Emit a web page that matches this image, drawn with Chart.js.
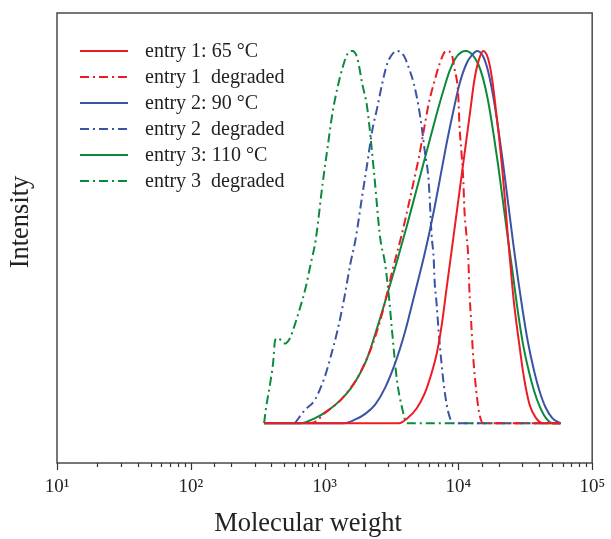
<!DOCTYPE html>
<html>
<head>
<meta charset="utf-8">
<script src="https://cdn.jsdelivr.net/npm/chart.js@4/dist/chart.umd.min.js"></script>
<style>
html,body{margin:0;padding:0;background:#fff;}
#wrap{width:611px;height:539px;position:relative;}
</style>
</head>
<body>
<div id="wrap"><canvas id="c" width="611" height="539"></canvas></div>
<script>
// ---- data (molecular weight, normalized intensity) ----
const seriesLabels = ['entry 1: 65 \u00B0C', 'entry 1  degraded', 'entry 2: 90 \u00B0C', 'entry 2  degraded', 'entry 3: 110 \u00B0C', 'entry 3  degraded'];
const xTitle = 'Molecular weight';
const yTitle = 'Intensity';

const e1M = [353, 3594, 4120, 4887, 5600, 6310, 6871, 7480, 8147, 8875, 9665, 10520, 11460, 12270, 13140, 14060, 15320, 16690, 17860, 19100, 20120, 21180, 22290, 23460, 24700, 25990, 27350, 28800, 30310, 31900, 34150, 37840, 42630, 57940];
const e1I = [0, 0, 0.012, 0.040, 0.080, 0.135, 0.185, 0.260, 0.360, 0.460, 0.560, 0.660, 0.760, 0.840, 0.920, 0.970, 1.0, 0.979, 0.925, 0.840, 0.770, 0.690, 0.600, 0.500, 0.410, 0.325, 0.260, 0.200, 0.142, 0.095, 0.048, 0.015, 0, 0];

const e1dM = [748, 843, 1017, 1248, 1481, 1755, 2012, 2270, 2694, 2934, 3190, 3785, 4265, 4645, 5060, 5510, 5995, 6640, 7230, 7875, 8147, 8875, 9340, 10000, 10170, 10520, 10890, 11070, 11460, 11860, 12060, 12480, 12910, 13590, 14310, 15320, 57940];
const e1dI = [0, 0.003, 0.029, 0.054, 0.083, 0.121, 0.164, 0.209, 0.295, 0.349, 0.405, 0.509, 0.590, 0.651, 0.713, 0.786, 0.858, 0.920, 0.965, 0.997, 1.0, 0.992, 0.954, 0.874, 0.804, 0.732, 0.651, 0.579, 0.509, 0.445, 0.365, 0.268, 0.177, 0.088, 0.027, 0, 0];

const e2M = [353, 1406, 1697, 2013, 2387, 2831, 3357, 3915, 4335, 4887, 5510, 6095, 6640, 7356, 8147, 9185, 10170, 11460, 12700, 13830, 15320, 16690, 18170, 19790, 21540, 23460, 25550, 27830, 30310, 33000, 36560, 40500, 44870, 50550, 57940];
const e2I = [0, 0, 0.010, 0.025, 0.050, 0.095, 0.160, 0.235, 0.295, 0.370, 0.445, 0.515, 0.580, 0.665, 0.750, 0.840, 0.910, 0.965, 0.990, 1.0, 0.985, 0.945, 0.880, 0.795, 0.700, 0.595, 0.490, 0.390, 0.300, 0.220, 0.145, 0.085, 0.042, 0.013, 0];

const e2dM = [600, 711, 843, 1000, 1107, 1248, 1406, 1559, 1698, 1911, 2083, 2270, 2473, 2694, 2934, 3303, 3475, 3915, 4265, 4645, 5060, 5325, 5600, 5995, 6310, 6531, 6640, 6871, 7110, 7480, 7875, 8435, 9185, 57940];
const e2dI = [0, 0.035, 0.062, 0.123, 0.177, 0.249, 0.338, 0.429, 0.491, 0.611, 0.697, 0.786, 0.847, 0.912, 0.965, 0.997, 1.0, 0.987, 0.954, 0.912, 0.847, 0.794, 0.732, 0.651, 0.504, 0.445, 0.383, 0.322, 0.249, 0.161, 0.088, 0.027, 0, 0];

const e3M = [353, 664, 843, 1052, 1315, 1559, 1848, 2083, 2473, 2934, 3475, 4120, 4887, 5794, 6871, 7743, 8570, 9501, 10520, 11460, 12700, 14060, 15320, 16690, 18170, 19790, 21540, 23460, 25550, 27830, 30310, 33580, 36560, 40500, 44870, 50550, 57940];
const e3I = [0, 0, 0.013, 0.033, 0.062, 0.092, 0.135, 0.175, 0.257, 0.345, 0.435, 0.530, 0.630, 0.730, 0.830, 0.895, 0.945, 0.980, 0.997, 1.0, 0.990, 0.965, 0.925, 0.865, 0.785, 0.695, 0.595, 0.495, 0.400, 0.300, 0.215, 0.140, 0.090, 0.045, 0.015, 0, 0];

const e3dM = [353, 366, 392, 412, 427, 449, 506, 551, 580, 653, 723, 788, 857, 966, 1052, 1146, 1248, 1360, 1481, 1612, 1755, 1911, 2083, 2346, 2600, 2831, 3030, 3190, 3475, 3785, 4120, 57940];
const e3dI = [0, 0.043, 0.107, 0.161, 0.223, 0.228, 0.214, 0.228, 0.249, 0.308, 0.365, 0.429, 0.491, 0.643, 0.740, 0.834, 0.901, 0.954, 0.992, 1.0, 0.981, 0.912, 0.847, 0.670, 0.499, 0.429, 0.338, 0.249, 0.115, 0.043, 0, 0];

const xTickValues = [10, 100, 1000, 10000, 100000];
const xTickLabels = ['10\u00B9', '10\u00B2', '10\u00B3', '10\u2074', '10\u2075'];

// ---- styles ----
const RED = '#ec1c24', BLUE = '#3a53a4', GREEN = '#0c8a3c';
const DASHDOT = [9, 4, 2, 4];
const SERIF = "'Liberation Serif', 'Times New Roman', serif";

function pts(mArr, iArr) { return mArr.map((m, i) => ({ x: m, y: iArr[i] })); }

function ds(label, mArr, iArr, color, dashed) {
  return {
    label: label,
    data: pts(mArr, iArr),
    borderColor: color,
    backgroundColor: color,
    borderWidth: 2,
    borderDash: dashed ? DASHDOT : [],
    pointRadius: 0,
    fill: false,
    cubicInterpolationMode: 'monotone'
  };
}

const datasets = [
  ds(seriesLabels[0], e1M, e1I, RED, false),
  ds(seriesLabels[1], e1dM, e1dI, RED, true),
  ds(seriesLabels[2], e2M, e2I, BLUE, false),
  ds(seriesLabels[3], e2dM, e2dI, BLUE, true),
  ds(seriesLabels[4], e3M, e3I, GREEN, false),
  ds(seriesLabels[5], e3dM, e3dI, GREEN, true)
];

const decor = {
  id: 'decor',
  afterDraw(chart) {
    const ctx = chart.ctx;
    const a = chart.chartArea;
    const xs = chart.scales.x;
    ctx.save();
    // frame
    ctx.strokeStyle = '#4a4a4a';
    ctx.lineWidth = 1.5;
    ctx.setLineDash([]);
    ctx.strokeRect(a.left, a.top, a.right - a.left, a.bottom - a.top);
    // bottom ticks (outward)
    ctx.strokeStyle = '#333';
    ctx.lineWidth = 1.2;
    xs.ticks.forEach(t => {
      const v = t.value;
      const lg = Math.log10(v);
      const major = Math.abs(lg - Math.round(lg)) < 1e-9;
      const px = Math.round(xs.getPixelForValue(v)) + 0.5;
      ctx.beginPath();
      ctx.moveTo(px, a.bottom);
      ctx.lineTo(px, a.bottom + (major ? 7 : 4));
      ctx.stroke();
    });
    // axis titles
    ctx.fillStyle = '#222';
    ctx.font = '26.5px ' + SERIF;
    ctx.textAlign = 'center';
    ctx.textBaseline = 'middle';
    ctx.fillText(xTitle, a.left + 251, 524);
    ctx.save();
    ctx.translate(21, a.top + 209);
    ctx.rotate(-Math.PI / 2);
    ctx.fillText(yTitle, 0, 0);
    ctx.restore();
    // legend
    const x0 = a.left + 23, x1 = a.left + 71, tx = a.left + 88;
    let y = a.top + 38;
    ctx.font = '20px ' + SERIF;
    ctx.textBaseline = 'middle';
    ctx.textAlign = 'left';
    chart.data.datasets.forEach(d => {
      ctx.strokeStyle = d.borderColor;
      ctx.lineWidth = 2;
      ctx.setLineDash(d.borderDash || []);
      ctx.beginPath();
      ctx.moveTo(x0, y);
      ctx.lineTo(x1, y);
      ctx.stroke();
      ctx.setLineDash([]);
      ctx.fillStyle = '#222';
      ctx.fillText(d.label, tx, y + 1);
      y += 26;
    });
    ctx.restore();
  }
};

new Chart(document.getElementById('c'), {
  type: 'line',
  data: { datasets: datasets },
  options: {
    responsive: false,
    animation: false,
    layout: { padding: { top: 13, right: 14, left: 0, bottom: 0 } },
    plugins: { legend: { display: false }, tooltip: { enabled: false } },
    scales: {
      x: {
        type: 'logarithmic',
        min: 10,
        max: 100000,
        afterFit(s) { s.height = 76; },
        grid: { display: true, drawOnChartArea: false, drawTicks: true, tickLength: 7, color: 'rgba(0,0,0,0)' },
        border: { display: false },
        ticks: {
          autoSkip: false,
          maxRotation: 0,
          padding: 6,
          color: '#222',
          font: { family: SERIF, size: 19 },
          callback(v) {
            const idx = xTickValues.indexOf(v);
            return idx >= 0 ? xTickLabels[idx] : '';
          }
        },
        title: { display: false }
      },
      y: {
        type: 'linear',
        min: -0.107,
        max: 1.102,
        afterFit(s) { s.width = 57; },
        grid: { display: false },
        border: { display: false },
        ticks: { display: false },
        title: { display: false }
      }
    }
  },
  plugins: [decor]
});
</script>
</body>
</html>
